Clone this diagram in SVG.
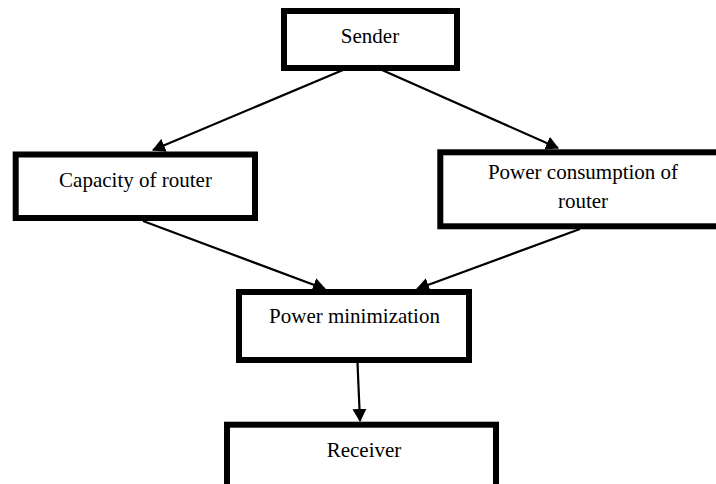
<svg xmlns="http://www.w3.org/2000/svg" width="716" height="484" viewBox="0 0 716 484">
<style>
.box{fill:#fff;stroke:#000;stroke-width:6}
.lbl{font-family:"Liberation Serif","Times New Roman",serif;font-size:21px;fill:#000;text-anchor:middle}
.edge{stroke:#000;stroke-width:2.2;fill:none;marker-end:url(#ah)}
</style>
<defs>
<marker id="ah" viewBox="0 0 13 14" refX="12" refY="7" markerWidth="13" markerHeight="14" markerUnits="userSpaceOnUse" orient="auto">
<path d="M0,0 L13,7 L0,14 z" fill="#000"/>
</marker>
</defs>
<rect width="716" height="484" fill="#fff"/>
<g id="connectors">
<line class="edge" x1="343" y1="70" x2="153" y2="150"/>
<line class="edge" x1="382" y1="70" x2="558" y2="148"/>
<line class="edge" x1="143" y1="221" x2="325" y2="289"/>
<line class="edge" x1="580" y1="229" x2="417" y2="289"/>
<line class="edge" x1="357.5" y1="363" x2="360" y2="421"/>
</g>
<g id="sender">
<rect class="box" x="284" y="11" width="173" height="57"/>
<text class="lbl" x="370" y="43">Sender</text>
</g>
<g id="capacity">
<rect class="box" x="15.7" y="154.5" width="239.3" height="63.5"/>
<text class="lbl" x="135.5" y="187">Capacity of router</text>
</g>
<g id="powerconsumption">
<rect class="box" x="440.3" y="152.3" width="300" height="74"/>
<text class="lbl" x="583" y="179">Power consumption of</text>
<text class="lbl" x="583" y="208">router</text>
</g>
<g id="powermin">
<rect class="box" x="239" y="292" width="230" height="68"/>
<text class="lbl" x="354.5" y="323">Power minimization</text>
</g>
<g id="receiver">
<rect class="box" x="227" y="424.7" width="269" height="80"/>
<text class="lbl" x="364" y="457">Receiver</text>
</g>
</svg>
